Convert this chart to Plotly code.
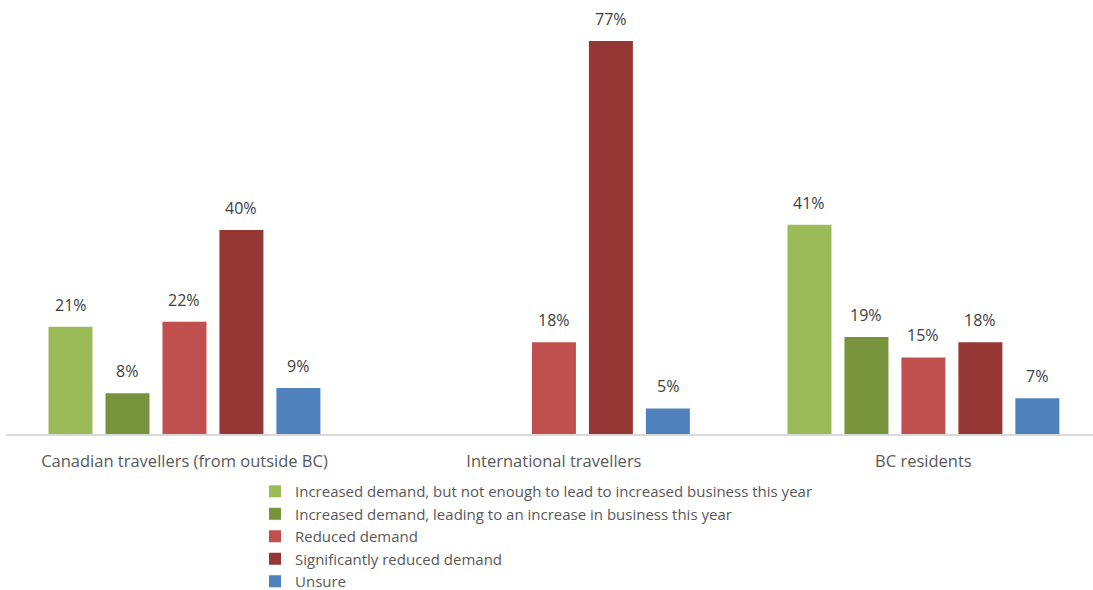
import plotly.graph_objects as go

categories = ["Canadian travellers (from outside BC)", "International travellers", "BC residents"]
series_names = [
    "Increased demand, but not enough to lead to increased business this year",
    "Increased demand, leading to an increase in business this year",
    "Reduced demand",
    "Significantly reduced demand",
    "Unsure",
]
values = {
    "Increased demand, but not enough to lead to increased business this year": [21, 0, 41],
    "Increased demand, leading to an increase in business this year": [8, 0, 19],
    "Reduced demand": [22, 18, 15],
    "Significantly reduced demand": [40, 77, 18],
    "Unsure": [9, 5, 7],
}
colors = ["#9BBB59", "#77933C", "#C0504D", "#953735", "#4F81BD"]

FONT = "Open Sans"
bargap = 0.229
n = len(series_names)
slot = (1 - bargap) / n
xs = list(range(len(categories)))

fig = go.Figure()
annotations = []
for j, name in enumerate(series_names):
    vals = values[name]
    fig.add_trace(go.Bar(
        name=name, x=xs, y=vals, marker=dict(color=colors[j], line=dict(width=0)),
        hoverinfo="skip",
    ))
    for i, v in enumerate(vals):
        if v == 0:
            continue
        annotations.append(dict(
            x=i + (j - (n - 1) / 2) * slot, y=v, xref="x", yref="y",
            text=f"{v}%", showarrow=False, yanchor="bottom", yshift=9,
            font=dict(family=FONT, size=16, color="#404040"),
        ))

fig.update_layout(
    width=1093, height=590,
    margin=dict(l=6, r=0, t=0, b=156, autoexpand=False),
    paper_bgcolor="white", plot_bgcolor="white",
    barmode="group", bargap=bargap, bargroupgap=0.228,
    annotations=annotations,
    showlegend=True,
    legend=dict(
        x=(255 - 6) / 1087, y=-0.0945, xanchor="left", yanchor="top",
        font=dict(family=FONT, size=15, color="#595959"),
        traceorder="normal", tracegroupgap=0, itemwidth=30,
    ),
    font=dict(family=FONT, size=15, color="#595959"),
)
fig.update_xaxes(
    tickmode="array", tickvals=xs, ticktext=categories,
    range=[-0.483, 2.459], showline=True, linecolor="#D9D9D9", linewidth=2,
    ticks="", showgrid=False, zeroline=False, ticklabelstandoff=11,
    tickfont=dict(family=FONT, size=16.5, color="#595959"),
)
fig.update_yaxes(range=[0, 85.05], visible=False, showgrid=False, zeroline=False)

fig.write_html("out.html")
